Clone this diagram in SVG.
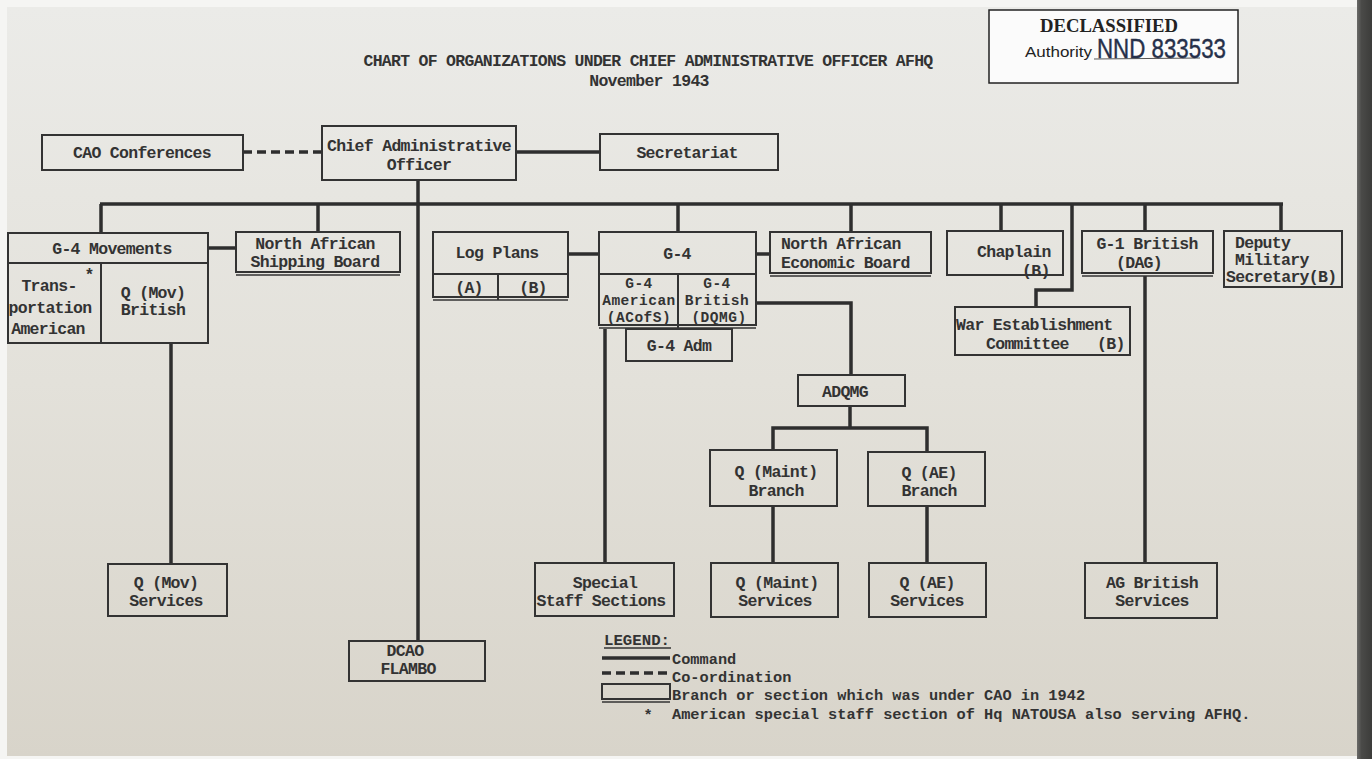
<svg xmlns="http://www.w3.org/2000/svg" width="1372" height="759" viewBox="0 0 1372 759">
<defs>
<linearGradient id="paper" x1="0" y1="0" x2="0" y2="1">
<stop offset="0" stop-color="#ebebe8"/>
<stop offset="0.5" stop-color="#e3e1da"/>
<stop offset="1" stop-color="#d8d4ca"/>
</linearGradient>
<linearGradient id="edge" x1="0" y1="0" x2="1" y2="0">
<stop offset="0" stop-color="#6a6a68"/>
<stop offset="0.3" stop-color="#4a4a48"/>
<stop offset="1" stop-color="#3c3c3a"/>
</linearGradient>
<style>
.t{font-family:"Liberation Mono","DejaVu Sans Mono",monospace;font-size:16.5px;letter-spacing:-0.7px;font-weight:bold;fill:#333;text-anchor:middle}
.s{text-anchor:start}
.sm{font-size:14.5px;letter-spacing:0.5px}
.lg{font-size:15.3px;letter-spacing:0px}
.b{fill:none;stroke:#333;stroke-width:2}
.c{fill:none;stroke:#2e2e2e;stroke-width:3.5}
.d{fill:none;stroke:#2e2e2e;stroke-width:3.5;stroke-dasharray:9 5}
.dbl{fill:none;stroke:#333;stroke-width:1.6}
</style>
</defs>
<rect width="1372" height="759" fill="#f5f5f3"/>
<rect x="7" y="7" width="1365" height="749" fill="url(#paper)"/>
<rect x="1357" y="0" width="15" height="759" fill="url(#edge)"/>

<g id="title">
<text class="t" x="648" y="66" textLength="569" lengthAdjust="spacingAndGlyphs">CHART OF ORGANIZATIONS UNDER CHIEF ADMINISTRATIVE OFFICER AFHQ</text>
<text class="t" x="649" y="86">November 1943</text>
</g>

<g id="stamp">
<rect x="989" y="10" width="249" height="73" fill="#fbfbfb" stroke="#222" stroke-width="1.5"/>
<text x="1109" y="32" font-family="Liberation Serif, serif" font-weight="bold" font-size="18" fill="#222" text-anchor="middle" textLength="138" lengthAdjust="spacingAndGlyphs">DECLASSIFIED</text>
<text x="1025" y="57" font-family="Liberation Sans, sans-serif" font-size="14" fill="#222" textLength="67" lengthAdjust="spacingAndGlyphs">Authority</text>
<line x1="1094" y1="59" x2="1200" y2="58" stroke="#555" stroke-width="1"/>
<text x="1097" y="58" font-family="Liberation Sans, sans-serif" font-size="27" fill="#26304a" stroke="#26304a" stroke-width="0.4" textLength="129" lengthAdjust="spacingAndGlyphs">NND 833533</text>
</g>

<g id="connectors">
<line class="d" x1="243" y1="152" x2="322" y2="152"/>
<line class="c" x1="516" y1="152" x2="600" y2="152"/>
<line class="c" x1="418" y1="180" x2="418" y2="641"/>
<line class="c" x1="100" y1="204" x2="1283" y2="204"/>
<line class="c" x1="101" y1="204" x2="101" y2="233"/>
<line class="c" x1="318" y1="204" x2="318" y2="232"/>
<line class="c" x1="678" y1="204" x2="678" y2="232"/>
<line class="c" x1="851" y1="204" x2="851" y2="232"/>
<line class="c" x1="1001" y1="204" x2="1001" y2="231"/>
<line class="c" x1="1145" y1="204" x2="1145" y2="231"/>
<line class="c" x1="1281" y1="204" x2="1281" y2="231"/>
<path class="c" d="M1072 204 V290 H1036 V307"/>
<line class="c" x1="208" y1="248" x2="236" y2="248"/>
<line class="c" x1="568" y1="254" x2="599" y2="254"/>
<line class="c" x1="756" y1="254" x2="770" y2="254"/>
<path class="c" d="M756 303 H851 V375"/>
<path class="c" d="M850 406 V428"/>
<path class="c" d="M773 450 V428 H927 V452"/>
<line class="c" x1="773" y1="506" x2="773" y2="563"/>
<line class="c" x1="927" y1="506" x2="927" y2="563"/>
<line class="c" x1="605" y1="329" x2="605" y2="563"/>
<line class="c" x1="171" y1="343" x2="171" y2="564"/>
<line class="c" x1="1145" y1="276" x2="1145" y2="563"/>
</g>

<g id="cao-conferences">
<rect class="b" x="42" y="135" width="201" height="35"/>
<text class="t" x="142" y="158">CAO Conferences</text>
</g>
<g id="chief">
<rect class="b" x="322" y="126" width="194" height="54"/>
<text class="t" x="419" y="151">Chief Administrative</text>
<text class="t" x="419" y="170">Officer</text>
</g>
<g id="secretariat">
<rect class="b" x="600" y="134" width="178" height="36"/>
<text class="t" x="687" y="158">Secretariat</text>
</g>

<g id="g4-movements">
<rect class="b" x="8" y="233" width="200" height="110"/>
<line class="b" x1="8" y1="263" x2="208" y2="263"/>
<line class="b" x1="101" y1="263" x2="101" y2="343"/>
<text class="t" x="112" y="254">G-4 Movements</text>
<text class="t" x="89" y="280">*</text>
<text class="t" x="49" y="291">Trans-</text>
<text class="t" x="50" y="313">portation</text>
<text class="t" x="48" y="334">American</text>
<text class="t" x="153" y="298">Q (Mov)</text>
<text class="t" x="153" y="315">British</text>
</g>

<g id="na-shipping-board">
<rect class="b" x="236" y="232" width="164" height="40"/>
<line class="dbl" x1="236" y1="275" x2="400" y2="275"/>
<text class="t" x="315" y="249">North African</text>
<text class="t" x="315" y="267">Shipping Board</text>
</g>

<g id="log-plans">
<rect class="b" x="433" y="232" width="135" height="65"/>
<line class="b" x1="433" y1="274" x2="568" y2="274"/>
<line class="b" x1="498" y1="274" x2="498" y2="300"/>
<line class="dbl" x1="433" y1="300" x2="568" y2="300"/>
<text class="t" x="497" y="258">Log Plans</text>
<text class="t" x="469" y="293">(A)</text>
<text class="t" x="533" y="293">(B)</text>
</g>

<g id="g4">
<rect class="b" x="599" y="232" width="157" height="93"/>
<line class="b" x1="599" y1="274" x2="756" y2="274"/>
<line class="b" x1="678" y1="274" x2="678" y2="328"/>
<line class="dbl" x1="599" y1="328" x2="756" y2="328"/>
<text class="t" x="677" y="259">G-4</text>
<text class="t sm" x="639" y="288">G-4</text>
<text class="t sm" x="639" y="305">American</text>
<text class="t sm" x="639" y="322">(ACofS)</text>
<text class="t sm" x="717" y="288">G-4</text>
<text class="t sm" x="717" y="305">British</text>
<text class="t sm" x="719" y="322">(DQMG)</text>
</g>
<g id="g4-adm">
<rect class="b" x="626" y="329" width="106" height="32"/>
<text class="t" x="679" y="351">G-4 Adm</text>
</g>

<g id="na-economic-board">
<rect class="b" x="770" y="232" width="161" height="41"/>
<line class="dbl" x1="770" y1="276" x2="931" y2="276"/>
<text class="t s" x="781" y="249">North African</text>
<text class="t s" x="781" y="268">Economic Board</text>
</g>

<g id="chaplain">
<rect class="b" x="947" y="231" width="116" height="44"/>
<text class="t s" x="977" y="257">Chaplain</text>
<text class="t s" x="1022" y="276">(B)</text>
</g>

<g id="war-establishment">
<rect class="b" x="955" y="307" width="175" height="48"/>
<text class="t s" x="956" y="330">War Establishment</text>
<text class="t s" x="986" y="349">Committee</text>
<text class="t s" x="1097" y="349">(B)</text>
</g>

<g id="g1-british">
<rect class="b" x="1082" y="231" width="131" height="42"/>
<line class="dbl" x1="1082" y1="276" x2="1213" y2="276"/>
<text class="t" x="1147" y="249">G-1 British</text>
<text class="t" x="1139" y="268">(DAG)</text>
</g>

<g id="deputy-military-secretary">
<rect class="b" x="1224" y="231" width="118" height="56"/>
<text class="t s" x="1235" y="248">Deputy</text>
<text class="t s" x="1235" y="265">Military</text>
<text class="t s" x="1226" y="282">Secretary(B)</text>
</g>

<g id="adqmg">
<rect class="b" x="798" y="375" width="107" height="31"/>
<text class="t" x="845" y="397">ADQMG</text>
</g>

<g id="q-maint-branch">
<rect class="b" x="710" y="450" width="127" height="56"/>
<text class="t" x="776" y="477">Q (Maint)</text>
<text class="t" x="776" y="496">Branch</text>
</g>
<g id="q-ae-branch">
<rect class="b" x="868" y="452" width="117" height="54"/>
<text class="t" x="929" y="478">Q (AE)</text>
<text class="t" x="929" y="496">Branch</text>
</g>

<g id="q-mov-services">
<rect class="b" x="108" y="564" width="119" height="52"/>
<text class="t" x="166" y="588">Q (Mov)</text>
<text class="t" x="166" y="606">Services</text>
</g>
<g id="dcao-flambo">
<rect class="b" x="349" y="641" width="136" height="40"/>
<text class="t" x="405" y="656" font-size="14.5">DCAO</text>
<text class="t" x="408" y="674" font-size="14.5">FLAMBO</text>
</g>
<g id="special-staff-sections">
<rect class="b" x="535" y="563" width="139" height="53"/>
<text class="t" x="605" y="588">Special</text>
<text class="t" x="601" y="606">Staff Sections</text>
</g>
<g id="q-maint-services">
<rect class="b" x="711" y="563" width="127" height="54"/>
<text class="t" x="777" y="588">Q (Maint)</text>
<text class="t" x="775" y="606">Services</text>
</g>
<g id="q-ae-services">
<rect class="b" x="869" y="563" width="117" height="54"/>
<text class="t" x="927" y="588">Q (AE)</text>
<text class="t" x="927" y="606">Services</text>
</g>
<g id="ag-british-services">
<rect class="b" x="1085" y="563" width="132" height="55"/>
<text class="t" x="1152" y="588">AG British</text>
<text class="t" x="1152" y="606">Services</text>
</g>

<g id="legend">
<text class="t s lg" x="604" y="645" textLength="66" lengthAdjust="spacingAndGlyphs">LEGEND:</text>
<line x1="604" y1="648" x2="671" y2="648" stroke="#333" stroke-width="1.5"/>
<line class="c" x1="602" y1="658" x2="670" y2="658"/>
<text class="t s lg" x="672" y="664">Command</text>
<line class="d" x1="602" y1="673" x2="670" y2="673" stroke-dasharray="10 4"/>
<text class="t s lg" x="672" y="682">Co-ordination</text>
<rect class="b" x="602" y="684" width="68" height="15"/>
<line class="dbl" x1="602" y1="702" x2="670" y2="702"/>
<text class="t s lg" x="672" y="700">Branch or section which was under CAO in 1942</text>
<text class="t lg" x="648" y="720">*</text>
<text class="t s lg" x="672" y="719">American special staff section of Hq NATOUSA also serving AFHQ.</text>
</g>
</svg>
